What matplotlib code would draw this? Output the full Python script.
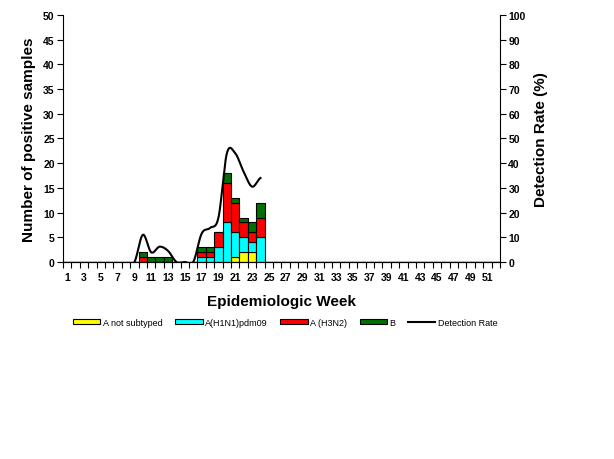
import numpy as np
import matplotlib

matplotlib.use("Agg")
import matplotlib.pyplot as plt
from matplotlib.patches import Patch
from matplotlib.lines import Line2D

plt.rcParams["font.family"] = ["Liberation Sans", "DejaVu Sans"]

weeks = list(range(1, 53))

# positive samples per week (weeks 1-52), only weeks 10-24 non-zero
not_subtyped = {21: 1, 22: 2, 23: 2}
h1n1 = {17: 1, 18: 1, 19: 3, 20: 8, 21: 5, 22: 3, 23: 2, 24: 5}
h3n2 = {10: 1, 17: 1, 18: 1, 19: 3, 20: 8, 21: 6, 22: 3, 23: 2, 24: 4}
flu_b = {10: 1, 11: 1, 12: 1, 13: 1, 17: 1, 18: 1, 20: 2, 21: 1, 22: 1, 23: 2, 24: 3}

rate_weeks = [9, 10, 11, 12, 13, 14, 15, 16, 17, 18, 19, 20, 21, 22, 23, 24]
rate_values = [0, 11, 3.9, 6.2, 4.5, 0, 0, 0, 11.5, 13.8, 18, 44, 44, 36.5, 30.5, 34]

series = [
    ("A not subtyped", not_subtyped, "#FFFF00"),
    ("A(H1N1)pdm09", h1n1, "#00FFFF"),
    ("A (H3N2)", h3n2, "#FF0000"),
    ("B", flu_b, "#007000"),
]


def smooth(xs, ys, n=20):
    """Catmull-Rom curve through the points, like Excel's smoothed line."""
    xs = np.asarray(xs, float)
    ys = np.asarray(ys, float)
    px = np.concatenate([[2 * xs[0] - xs[1]], xs, [2 * xs[-1] - xs[-2]]])
    py = np.concatenate([[ys[0]], ys, [ys[-1]]])
    out_x, out_y = [], []
    t = np.linspace(0, 1, n, endpoint=False)
    for i in range(1, len(px) - 2):
        for arr, out in ((px, out_x), (py, out_y)):
            p0, p1, p2, p3 = arr[i - 1], arr[i], arr[i + 1], arr[i + 2]
            out.extend(0.5 * (2 * p1 + (-p0 + p2) * t
                              + (2 * p0 - 5 * p1 + 4 * p2 - p3) * t ** 2
                              + (-p0 + 3 * p1 - 3 * p2 + p3) * t ** 3))
    out_x.append(xs[-1])
    out_y.append(ys[-1])
    return np.array(out_x), np.array(out_y)


fig = plt.figure(figsize=(6.14, 4.6), dpi=100)
ax = fig.add_axes([0.1026, 0.4283, 0.7117, 0.5369])

x = np.arange(len(weeks))
bottom = np.zeros(len(weeks))
for name, data, color in series:
    vals = np.array([data.get(w, 0) for w in weeks], float)
    ax.bar(x, vals, width=1.0, bottom=bottom, color=color,
           edgecolor="black", linewidth=0.8, zorder=2)
    bottom += vals

ax.set_xlim(-0.5, len(weeks) - 0.5)
ax.set_ylim(0, 50)
ax.set_yticks(range(0, 51, 5))
ax.set_xticks(x[::2])
ax.set_xticklabels([str(w) for w in weeks[::2]])
ax.set_xticks(np.arange(-0.5, len(weeks), 1), minor=True)
ax.tick_params(axis="x", which="major", length=0, pad=7)
ax.tick_params(axis="x", which="minor", length=4, width=0.8, direction="out")
ax.tick_params(axis="y", length=4, width=0.8, direction="out", pad=2)
for lab in ax.get_xticklabels() + ax.get_yticklabels():
    lab.set_fontsize(7.5)
    lab.set_fontweight("bold")
ax.spines["top"].set_visible(False)
ax.spines["right"].set_visible(False)
ax.set_ylabel("Number of positive samples", fontsize=11, fontweight="bold", labelpad=5)
ax.set_xlabel("Epidemiologic Week", fontsize=11, fontweight="bold", labelpad=9)

ax2 = ax.twinx()
sx, sy = smooth([w - 1 for w in rate_weeks], rate_values)
ax2.plot(sx, sy, color="black", linewidth=1.5, zorder=3)
ax2.set_ylim(0, 100)
ax2.set_yticks(range(0, 101, 10))
ax2.tick_params(axis="y", length=4, width=0.8, direction="out", pad=2)
for lab in ax2.get_yticklabels():
    lab.set_fontsize(7.5)
    lab.set_fontweight("bold")
ax2.spines["top"].set_visible(False)
ax2.spines["left"].set_visible(False)
ax2.set_ylabel("Detection Rate (%)", fontsize=11, fontweight="bold", labelpad=6)

handles = [Patch(facecolor=c, edgecolor="black", linewidth=0.8, label=n) for n, _, c in series]
handles.append(Line2D([0], [0], color="black", linewidth=1.5, label="Detection Rate"))
fig.legend(handles=handles, loc="center", bbox_to_anchor=(0.465, 0.297), ncol=5,
           frameon=False, fontsize=6.5, handlelength=3.0, handleheight=0.45,
           columnspacing=1.4, handletextpad=0.3)

fig.savefig("out.png", dpi=100)
